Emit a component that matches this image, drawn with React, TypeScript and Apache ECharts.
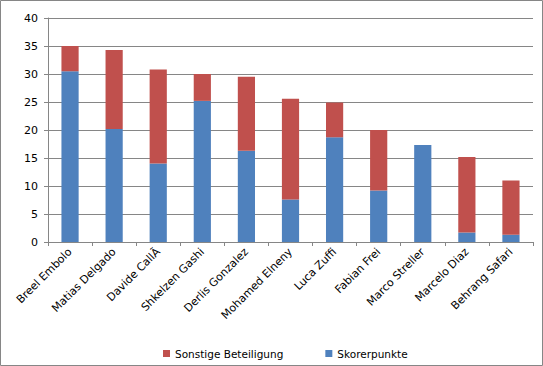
import React, { useEffect, useRef } from "react";
import * as echarts from "echarts";

const categories = [
  "Breel Embolo",
  "Matias Delgado",
  "Davide CallÃ",
  "Shkelzen Gashi",
  "Derlis Gonzalez",
  "Mohamed Elneny",
  "Luca Zuffi",
  "Fabian Frei",
  "Marco Streller",
  "Marcelo Diaz",
  "Behrang Safari",
];
const skorerpunkte = [30.5, 20.2, 14.0, 25.2, 16.3, 7.6, 18.7, 9.2, 17.3, 1.7, 1.3];
const sonstige = [4.5, 14.1, 16.8, 4.8, 13.2, 18.0, 6.2, 10.8, 0, 13.5, 9.7];
const yTicks = [0, 5, 10, 15, 20, 25, 30, 35, 40];

const FONT = "DejaVu Sans";

export default function App() {
  const ref = useRef<HTMLDivElement>(null);
  useEffect(() => {
    if (!ref.current) return;
    const chart = echarts.init(ref.current, null, { renderer: "svg" });
    chart.setOption({
      animation: false,
      textStyle: { fontFamily: FONT },
      graphic: [
        {
          type: "rect",
          shape: { x: 0.5, y: 0.5, width: 542, height: 365 },
          style: { fill: "none", stroke: "#868686", lineWidth: 1 },
          silent: true,
        },
      ],
      grid: { left: 48, right: 10, top: 18, bottom: 124, containLabel: false },
      legend: {
        data: ["Sonstige Beteiligung", "Skorerpunkte"],
        left: 158,
        top: 343,
        icon: "rect",
        itemWidth: 7,
        itemHeight: 7,
        itemGap: 42,
        textStyle: { fontFamily: FONT, fontSize: 10.5, color: "#000" },
      },
      xAxis: {
        type: "category",
        data: categories,
        axisLine: { lineStyle: { color: "#868686" } },
        axisTick: { show: true, length: 4, lineStyle: { color: "#868686" } },
        axisLabel: {
          rotate: 45,
          interval: 0,
          fontFamily: FONT,
          fontSize: 11,
          color: "#000",
          margin: 8,
        },
      },
      yAxis: {
        type: "value",
        min: 0,
        max: 40,
        interval: 5,
        axisLine: { show: true, lineStyle: { color: "#868686" } },
        axisTick: { show: true, length: 4, lineStyle: { color: "#868686" } },
        splitLine: { lineStyle: { color: "#868686", width: 1 } },
        axisLabel: {
          fontFamily: FONT,
          fontSize: 11,
          color: "#000",
          margin: 10,
          formatter: (v: number) => (yTicks.includes(v) ? String(v) : ""),
        },
      },
      series: [
        {
          name: "Skorerpunkte",
          type: "bar",
          stack: "total",
          data: skorerpunkte,
          barWidth: "39%",
          itemStyle: { color: "#4F81BD" },
        },
        {
          name: "Sonstige Beteiligung",
          type: "bar",
          stack: "total",
          data: sonstige,
          barWidth: "39%",
          itemStyle: { color: "#C0504D" },
        },
      ],
    });
    return () => chart.dispose();
  }, []);
  return (
    <div
      ref={ref}
      style={{ position: "fixed", left: 0, top: 0, width: 543, height: 366, background: "#fff" }}
    />
  );
}
